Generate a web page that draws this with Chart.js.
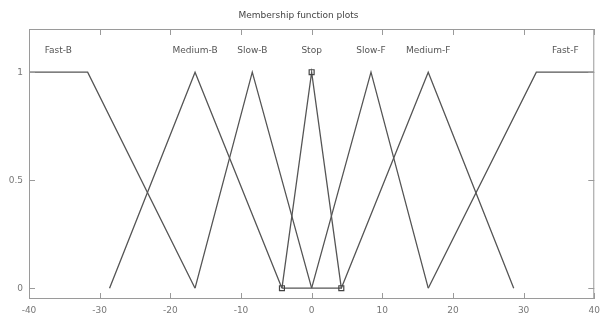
<!DOCTYPE html>
<html>
<head>
<meta charset="utf-8">
<script src="https://cdn.jsdelivr.net/npm/chart.js@4"></script>
<style>
  html, body { margin: 0; padding: 0; background: #fff; }
  #wrap { width: 606px; height: 320px; }
</style>
</head>
<body>
<div id="wrap"><canvas id="mfChart"></canvas></div>
<script>
// membership functions (x breakpoints / membership degree)
const mfNames = ['Fast-B', 'Medium-B', 'Slow-B', 'Stop', 'Slow-F', 'Medium-F', 'Fast-F'];
const mfX = [
    [-40, -31.7, -16.5],
    [-28.6, -16.5, -4.2],
    [-16.5, -8.4, 0],
    [-4.2, 0, 4.2, -4.2],
    [0, 8.4, 16.5],
    [4.2, 16.5, 28.6],
    [16.5, 31.8, 40]
];
const mfY = [
    [1, 1, 0],
    [0, 1, 0],
    [0, 1, 0],
    [0, 1, 0, 0],
    [0, 1, 0],
    [0, 1, 0],
    [0, 1, 1]
];
const xTicks = [-40, -30, -20, -10, 0, 10, 20, 30, 40];
const yTicks = [0, 0.5, 1];
const selected = 'Stop';
const labelLevel = 1.1;

const lineColor = '#555';
const axisColor = '#9a9a9a';

const datasets = mfNames.map((name, i) => {
    const pts = mfX[i].map((x, j) => ({ x: x, y: mfY[i][j] }));
    const isSel = name === selected;
    return {
        label: name,
        data: pts,
        borderColor: lineColor,
        borderWidth: 1.3,
        pointStyle: 'rect',
        pointRadius: isSel ? pts.map((p, j) => j < 3 ? 3.5 : 0) : 0,
        pointBorderColor: '#444',
        pointBackgroundColor: 'rgba(255,255,255,0)',
        pointBorderWidth: 1.2,
        fill: false,
        tension: 0
    };
});

// box frame, inward ticks and MF names
const matlabAxes = {
    id: 'matlabAxes',
    afterDatasetsDraw(chart) {
        const ctx = chart.ctx;
        const a = chart.chartArea;
        const xs = chart.scales.x;
        const ys = chart.scales.y;
        ctx.save();
        ctx.strokeStyle = axisColor;
        ctx.lineWidth = 1;
        ctx.strokeRect(a.left + 0.5, a.top + 0.5, a.right - a.left - 1, a.bottom - a.top - 1);
        ctx.beginPath();
        xTicks.forEach(v => {
            const px = Math.round(xs.getPixelForValue(v)) + 0.5;
            ctx.moveTo(px, a.bottom); ctx.lineTo(px, a.bottom - 6);
            ctx.moveTo(px, a.top); ctx.lineTo(px, a.top + 6);
        });
        yTicks.forEach(v => {
            const py = Math.round(ys.getPixelForValue(v)) + 0.5;
            ctx.moveTo(a.left, py); ctx.lineTo(a.left + 6, py);
            ctx.moveTo(a.right, py); ctx.lineTo(a.right - 6, py);
        });
        ctx.stroke();

        ctx.fillStyle = '#555';
        ctx.font = '9px "DejaVu Sans"';
        ctx.textAlign = 'center';
        ctx.textBaseline = 'middle';
        const ly = ys.getPixelForValue(labelLevel);
        mfNames.forEach((name, i) => {
            const top = mfX[i].filter((x, j) => mfY[i][j] === 1);
            const cx = (Math.min(...top) + Math.max(...top)) / 2;
            ctx.fillText(name, xs.getPixelForValue(cx), ly);
        });
        ctx.restore();
    }
};

new Chart(document.getElementById('mfChart'), {
    type: 'line',
    data: { datasets: datasets },
    plugins: [matlabAxes],
    options: {
        responsive: true,
        maintainAspectRatio: false,
        animation: false,
        layout: { padding: { left: 0, right: 9, top: 0, bottom: 0 } },
        plugins: {
            legend: { display: false },
            tooltip: { enabled: false },
            title: {
                display: true,
                text: 'Membership function plots',
                color: '#444',
                font: { family: 'DejaVu Sans', size: 9, weight: 'normal', lineHeight: 1.2 },
                padding: { top: 10, bottom: 8.2 }
            }
        },
        scales: {
            x: {
                type: 'linear',
                min: -40,
                max: 40,
                afterBuildTicks: s => { s.ticks = xTicks.map(v => ({ value: v })); },
                afterFit: s => { s.height = 21; },
                grid: { display: false, drawTicks: false },
                border: { display: false },
                ticks: {
                    padding: 6,
                    color: '#777',
                    font: { family: 'DejaVu Sans', size: 9 },
                    maxRotation: 0
                }
            },
            y: {
                min: -0.05,
                max: 1.2,
                afterBuildTicks: s => { s.ticks = yTicks.map(v => ({ value: v })); },
                afterFit: s => { s.width = 29; },
                grid: { display: false, drawTicks: false },
                border: { display: false },
                ticks: {
                    padding: 6,
                    color: '#777',
                    font: { family: 'DejaVu Sans', size: 9 },
                    callback: v => String(v)
                }
            }
        }
    }
});
</script>
</body>
</html>
